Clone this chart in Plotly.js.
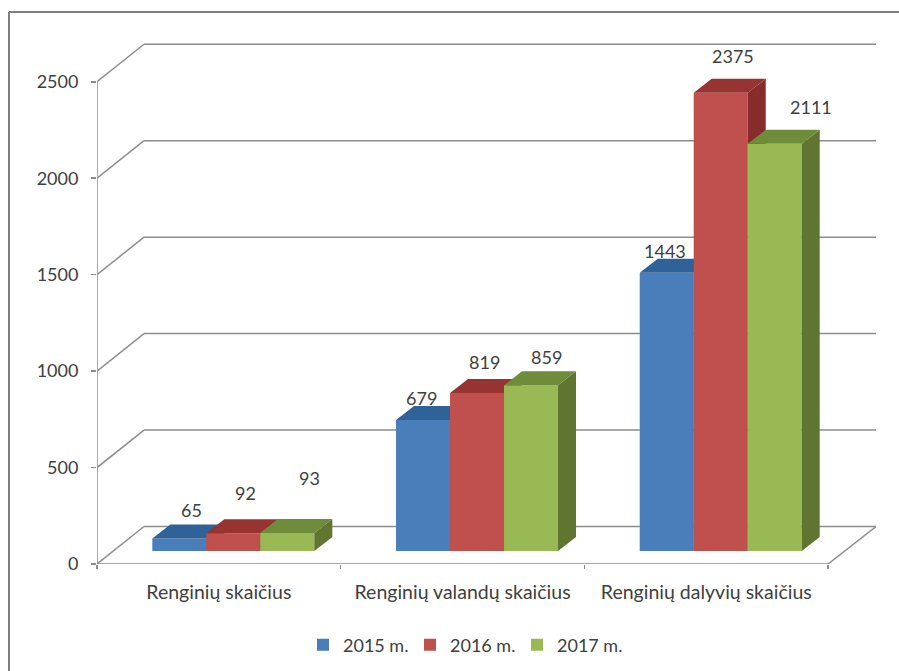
<!DOCTYPE html>
<html><head><meta charset="utf-8">
<script src="https://cdn.plot.ly/plotly-3.0.1.min.js"></script>
<style>html,body{margin:0;padding:0;background:#fff}#chart{width:899px;height:671px}</style>
</head><body><div id="chart"></div>
<script>
const categories = ["Renginių skaičius", "Renginių valandų skaičius", "Renginių dalyvių skaičius"];
const seriesNames = ["2015 m.", "2016 m.", "2017 m."];
const values2015 = [65, 679, 1443];
const values2016 = [92, 819, 2375];
const values2017 = [93, 859, 2111];
const yTicks = [0, 500, 1000, 1500, 2000, 2500];

const allValues = [values2015, values2016, values2017];
const frontColors = ["#4a7ebb", "#c0504d", "#98b954"];
const topColors = ["#2f6298", "#973331", "#6f8c3b"];
const sideColors = ["#2c4d75", "#862c2a", "#5f7530"];
const labelDx = [[12, -2, -2], [12, 7, 12], [22, 15, 36]];
const labelDy = [[28, 22, 22], [40, 31, 37], [55, 28, 37]];

const W = 899, H = 671, L = 97, R = 876, T = 40, B = 564;
const catPx = 243.7, unitPx = 0.1929;
const xMin = -0.5, xMax = xMin + (R - L) / catPx, yMax = (B - T) / unitPx;
const barW = 54 / catPx, barStart = -0.273, floorBase = 13 / unitPx;
const depthX = 18 / catPx, depthY = 14 / unitPx;
const wallX = 47 / catPx, wallY = 37.5 / unitPx;
const gridColor = "#8c8c8c", textColor = "#404040";
const font = {family: "Lato, 'Open Sans', sans-serif", size: 18, color: textColor};
const catFont = {family: "Lato, 'Open Sans', sans-serif", size: 19.5, color: textColor};

const traces = [], annotations = [];
allValues.forEach((vals, s) => {
  const xa = s ? "x" + (s + 1) : "x", ya = s ? "y" + (s + 1) : "y";
  const off = barStart + s * barW;
  traces.push({type: "bar", name: seriesNames[s], x: [0, 1, 2], y: vals, base: floorBase,
    width: barW, offset: off, marker: {color: frontColors[s], line: {width: 0}},
    xaxis: xa, yaxis: ya, hoverinfo: "y"});
  vals.forEach((v, c) => {
    const l = c + off, r = l + barW, t = floorBase + v;
    const poly = (x, y, color) => traces.push({type: "scatter", mode: "lines", x, y, fill: "toself",
      fillcolor: color, line: {width: 0}, showlegend: false, hoverinfo: "skip", xaxis: xa, yaxis: ya});
    poly([r, r + depthX, r + depthX, r, r], [floorBase, floorBase + depthY, t + depthY, t, floorBase], sideColors[s]);
    poly([l, r, r + depthX, l + depthX, l], [t, t, t + depthY, t + depthY, t], topColors[s]);
    annotations.push({x: (l + r) / 2, y: t, xref: "x", yref: "y", text: String(v), showarrow: false,
      xanchor: "center", yanchor: "middle", xshift: labelDx[s][c], yshift: labelDy[s][c], font});
  });
});

const seg = (x0, y0, x1, y1) => ({type: "line", xref: "x", yref: "y", x0, y0, x1, y1, layer: "below",
  line: {color: gridColor, width: 1.5}});
const shapes = [];
yTicks.forEach(v => {
  shapes.push(seg(xMin, v, xMin + wallX, v + wallY));
  shapes.push(seg(xMin + wallX, v + wallY, xMax, v + wallY));
});
shapes.push(seg(xMin, 0, xMin, yTicks[yTicks.length - 1]));
shapes.push(seg(xMin, 0, 2.5, 0));
shapes.push(seg(2.5, 0, xMax, wallY));
const px = v => (v - L) / (R - L), py = v => (B - v) / (B - T);
const frame = (a, b, c, d) => ({type: "line", xref: "paper", yref: "paper", x0: px(a), y0: py(b), x1: px(c), y1: py(d),
  line: {color: "#7f7f7f", width: 2}});
shapes.push(frame(9, 12, W, 12), frame(9, 12, 9, H));

const hidden = anchor => ({range: [xMin, xMax], overlaying: "x", anchor, showgrid: false, zeroline: false,
  showline: false, tickmode: "array", tickvals: [], fixedrange: true});
const layout = {
  width: W, height: H, margin: {l: L, r: W - R, t: T, b: H - B, pad: 0, autoexpand: false},
  paper_bgcolor: "#fff", plot_bgcolor: "rgba(0,0,0,0)", barmode: "overlay", font,
  xaxis: {range: [xMin, xMax], tickmode: "array", tickvals: [0, 1, 2], ticktext: categories, ticks: "",
    showgrid: false, zeroline: false, showline: false, tickfont: catFont, ticklabelstandoff: 14, fixedrange: true},
  yaxis: {range: [0, yMax], tickmode: "array", tickvals: yTicks, ticks: "outside", ticklen: 5, tickcolor: gridColor,
    tickwidth: 1.5, showgrid: false, zeroline: false, showline: false, tickfont: font, ticklabelstandoff: 9, fixedrange: true},
  xaxis2: Object.assign(hidden("y2"), {tickvals: [-0.5, 0.5, 1.5, 2.5], ticktext: ["", "", "", ""], ticks: "outside", ticklen: 4, tickcolor: gridColor, tickwidth: 1.5}),
  yaxis2: {range: [0, yMax], overlaying: "y", visible: false, fixedrange: true},
  xaxis3: hidden("y3"),
  yaxis3: {range: [0, yMax], overlaying: "y", visible: false, fixedrange: true},
  showlegend: true,
  legend: {orientation: "h", xref: "container", yref: "container", x: 303 / W, xanchor: "left", y: 26 / H, yanchor: "middle",
    font, itemwidth: 30, entrywidth: 62, entrywidthmode: "pixels", bgcolor: "rgba(0,0,0,0)"},
  shapes, annotations
};
Plotly.newPlot("chart", traces, layout, {displayModeBar: false, staticPlot: true});
</script></body></html>
